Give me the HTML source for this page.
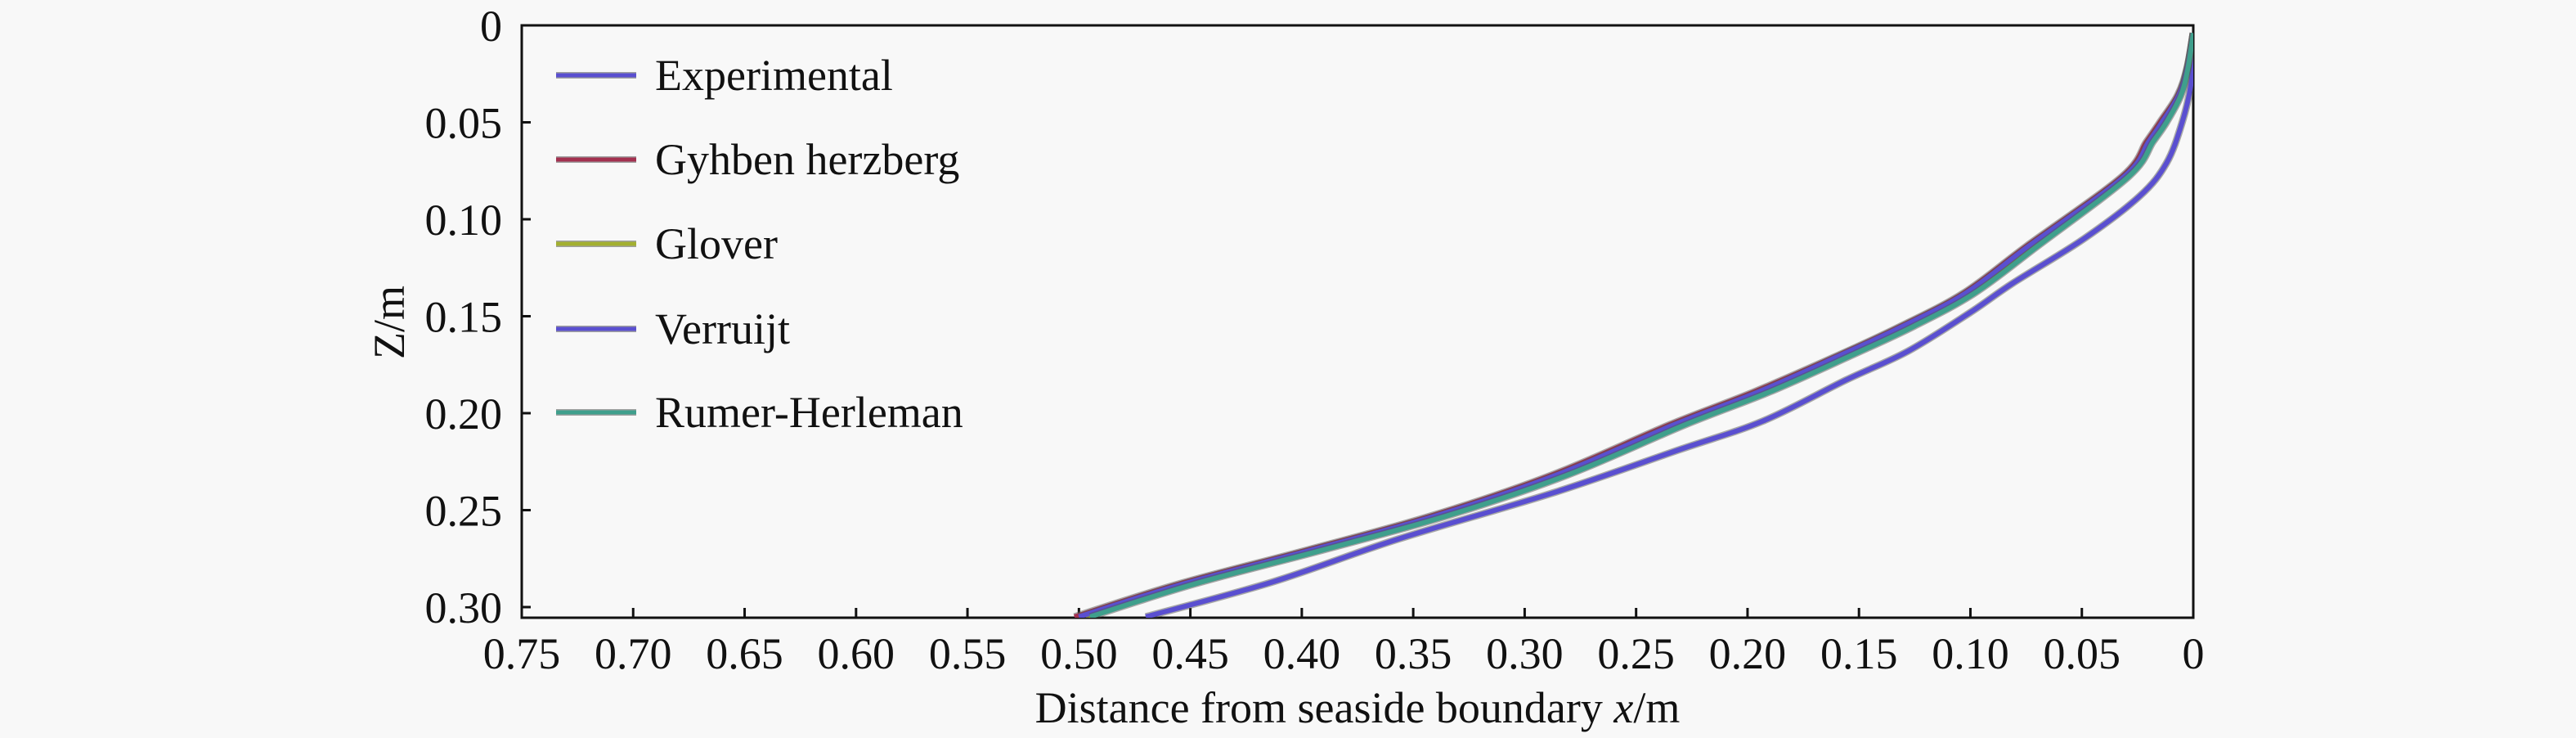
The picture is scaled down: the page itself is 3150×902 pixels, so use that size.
<!DOCTYPE html>
<html><head><meta charset="utf-8"><style>
html,body{margin:0;padding:0;background:#f8f8f8;}
svg{display:block;font-family:"Liberation Serif",serif;}
</style></head><body>
<svg id="chart" width="3150" height="902" viewBox="0 0 3150 902" xmlns="http://www.w3.org/2000/svg">
<rect x="0" y="0" width="3150" height="902" fill="#f8f8f8"/>
<defs><clipPath id="plotclip"><rect x="638" y="31" width="2044" height="724"/></clipPath></defs>
<g id="grid-axes"></g>
<g id="series" clip-path="url(#plotclip)"></g>
<g id="legend"></g>
<text transform="translate(494,394) rotate(-90)" text-anchor="middle" font-size="54" fill="#111">Z/m</text>
<text x="1660" y="883" text-anchor="middle" font-size="54" fill="#111">Distance from seaside boundary <tspan font-style="italic">x</tspan>/m</text>
</svg>
<script>
const xTicks = [0.75,0.70,0.65,0.60,0.55,0.50,0.45,0.40,0.35,0.30,0.25,0.20,0.15,0.10,0.05,0];
const xTickLabels = ["0.75","0.70","0.65","0.60","0.55","0.50","0.45","0.40","0.35","0.30","0.25","0.20","0.15","0.10","0.05","0"];
const yTicks = [0,0.05,0.10,0.15,0.20,0.25,0.30];
const yTickLabels = ["0","0.05","0.10","0.15","0.20","0.25","0.30"];
const seriesNames = ["Experimental","Gyhben herzberg","Glover","Verruijt","Rumer-Herleman"];
const expZ = [0.01,0.03,0.050,0.071,0.088,0.110,0.133,0.148,0.168,0.183,0.204,0.219,0.241,0.265,0.287,0.305];
const expX = [0,0.001,0.005,0.012,0.024,0.049,0.081,0.100,0.128,0.156,0.193,0.231,0.287,0.357,0.413,0.470];
const modelZ = [0.004,0.022,0.036,0.050,0.060,0.078,0.114,0.138,0.155,0.170,0.189,0.206,0.232,0.253,0.271,0.288,0.305];
const gyhbenX = [0,0.0028,0.007,0.015,0.021,0.032,0.075,0.103,0.131,0.159,0.197,0.235,0.288,0.342,0.399,0.455,0.502];
const gloverX = [0,0.0026,0.006,0.013,0.019,0.030,0.072,0.100,0.127,0.155,0.192,0.230,0.283,0.337,0.394,0.450,0.497];
const verruijtX = [0,0.0027,0.0065,0.014,0.020,0.031,0.074,0.102,0.130,0.158,0.195,0.233,0.286,0.340,0.397,0.453,0.500];
const rumerX = [0,0.0024,0.0055,0.012,0.018,0.029,0.070,0.098,0.125,0.153,0.190,0.228,0.281,0.335,0.392,0.448,0.495];

const L=638,R=2682,T=31,B=755;
const X0=0.75, ZMAX=(B-T)/2370;
function sx(v){return R-(v/X0)*(R-L);}
function sy(z){return T+(z/ZMAX)*(B-T);}
const NS="http://www.w3.org/2000/svg";
function mk(tag,attrs,parent){const e=document.createElementNS(NS,tag);for(const k in attrs)e.setAttribute(k,attrs[k]);parent.appendChild(e);return e;}
const ax=document.getElementById('grid-axes');
const frame=mk('rect',{x:L,y:T,width:R-L,height:B-T,fill:'none',stroke:'#111','stroke-width':3},ax);


xTicks.forEach((v,i)=>{
  const x=sx(v);
  const t=mk('line',{x1:x,x2:x,y1:B,y2:B-12,stroke:'#111','stroke-width':3},ax);
  
  
  const lb=mk('text',{x:x,y:817,'text-anchor':'middle','font-size':54,fill:'#111'},ax);
  
  
  lb.textContent=xTickLabels[i];
});
yTicks.forEach((v,i)=>{
  const y=sy(v);
  const t=mk('line',{x1:L,x2:L+11,y1:y,y2:y,stroke:'#111','stroke-width':3},ax);
  
  
  const lb=mk('text',{x:614,y:y+19,'text-anchor':'end','font-size':54,fill:'#111'},ax);
  
  
  lb.textContent=yTickLabels[i];
});
const colors=["#5a4fd0","#a3304f","#a3b030","#5a4fd0","#3f9f8c"];
const sg=document.getElementById('series');
function smoothPath(pts){
  let d='M'+pts[0][0].toFixed(1)+','+pts[0][1].toFixed(1);
  for(let i=0;i<pts.length-1;i++){
    const p0=pts[Math.max(0,i-1)],p1=pts[i],p2=pts[i+1],p3=pts[Math.min(pts.length-1,i+2)];
    const c1x=p1[0]+(p2[0]-p0[0])/6,c1y=p1[1]+(p2[1]-p0[1])/6;
    const c2x=p2[0]-(p3[0]-p1[0])/6,c2y=p2[1]-(p3[1]-p1[1])/6;
    d+=' C'+c1x.toFixed(1)+','+c1y.toFixed(1)+' '+c2x.toFixed(1)+','+c2y.toFixed(1)+' '+p2[0].toFixed(1)+','+p2[1].toFixed(1);
  }
  return d;
}
function drawLine(xs,zs,c,name){
  const pts=xs.map((v,i)=>[sx(v),sy(zs[i])]);
  const d=smoothPath(pts);
  mk('path',{d:d,fill:'none',stroke:'#555','stroke-width':9,'stroke-linejoin':'round',opacity:0.5},sg);
  const p=mk('path',{d:d,fill:'none',stroke:c,'stroke-width':6,'stroke-linejoin':'round'},sg);
  
  
}
drawLine(expX,expZ,colors[0],'experimental-line');
drawLine(gyhbenX,modelZ,colors[1],'gyhben-herzberg-line');
drawLine(gloverX,modelZ,colors[2],'glover-line');
drawLine(verruijtX,modelZ,colors[3],'verruijt-line');
drawLine(rumerX,modelZ,colors[4],'rumer-herleman-line');
const lg=document.getElementById('legend');
const rowsY=[92,195,298,402,504];
seriesNames.forEach((n,i)=>{
  const g=mk('g',{},lg);
  
  
  mk('line',{x1:680,x2:778,y1:rowsY[i],y2:rowsY[i],stroke:'#666','stroke-width':8,opacity:0.6},g);
  mk('line',{x1:680,x2:778,y1:rowsY[i],y2:rowsY[i],stroke:colors[i],'stroke-width':5},g);
  const t=mk('text',{x:801,y:rowsY[i]+18,'font-size':54,fill:'#111'},g);
  t.textContent=n;
});
</script>
</body></html>
